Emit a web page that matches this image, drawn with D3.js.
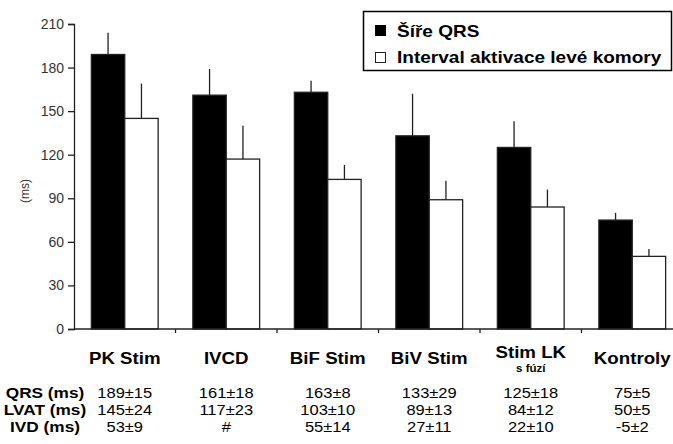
<!DOCTYPE html>
<html>
<head>
<meta charset="utf-8">
<script src="https://cdn.jsdelivr.net/npm/d3@7"></script>
<style>
  body { margin: 0; background: #fff; }
  svg { display: block; font-family: "Liberation Sans", Arial, sans-serif; }
</style>
</head>
<body>
<div id="chart"></div>
<script>
const groups = ['PK Stim', 'IVCD', 'BiF Stim', 'BiV Stim', 'Stim LK', 'Kontroly'];
const subLabels = ['', '', '', '', 's fúzí', ''];
const qrs = [189, 161, 163, 133, 125, 75];
const qrsErr = [15, 18, 8, 29, 18, 5];
const lvat = [145, 117, 103, 89, 84, 50];
const lvatErr = [24, 23, 10, 13, 12, 5];
const yTicks = [0, 30, 60, 90, 120, 150, 180, 210];
const rowLabels = ['QRS (ms)', 'LVAT (ms)', 'IVD (ms)'];
const ivd = ['53±9', '#', '55±14', '27±11', '22±10', '-5±2'];

const width = 673, height = 444;
const margin = {top: 24, right: -10, bottom: 115, left: 74};

const svg = d3.select('#chart').append('svg')
  .attr('width', width)
  .attr('height', height);

const x = d3.scaleBand()
  .domain(groups)
  .range([margin.left, width - margin.right])
  .paddingInner(0).paddingOuter(0);

const y = d3.scaleLinear()
  .domain([0, 210])
  .range([height - margin.bottom, margin.top]);

const sub = d3.scaleBand()
  .domain(['qrs', 'lvat'])
  .range([0, x.bandwidth()])
  .paddingOuter(0.52).paddingInner(0);

// stretched text helper (the source figure is a bit wider than tall)
function label(g, tx, ty, txt, size, weight, anchor, sx) {
  return g.append('text')
    .attr('transform', `translate(${tx},${ty}) scale(${sx || 1.1},1)`)
    .attr('text-anchor', anchor || 'middle')
    .attr('font-size', size)
    .attr('font-weight', weight || 'normal')
    .attr('fill', '#000')
    .text(txt);
}

const data = groups.map((g, i) => ({
  g,
  bars: [
    {k: 'qrs', v: qrs[i], e: qrsErr[i]},
    {k: 'lvat', v: lvat[i], e: lvatErr[i]}
  ]
}));

// error bars (drawn first so bar edges sit on top)
const grp = svg.append('g').selectAll('g')
  .data(data)
  .join('g')
  .attr('transform', d => `translate(${x(d.g)},0)`);

grp.selectAll('line.err')
  .data(d => d.bars)
  .join('line')
  .attr('class', 'err')
  .attr('x1', d => sub(d.k) + sub.bandwidth() / 2)
  .attr('x2', d => sub(d.k) + sub.bandwidth() / 2)
  .attr('y1', d => y(d.v))
  .attr('y2', d => y(d.v + d.e))
  .attr('stroke', '#222')
  .attr('stroke-width', 1.3);

grp.selectAll('rect')
  .data(d => d.bars)
  .join('rect')
  .attr('x', d => sub(d.k))
  .attr('width', sub.bandwidth())
  .attr('y', d => y(d.v))
  .attr('height', d => y(0) - y(d.v))
  .attr('fill', d => d.k == 'qrs' ? '#000' : '#fff')
  .attr('stroke', '#222')
  .attr('stroke-width', 1.3);

// y axis
const yAxis = svg.append('g')
  .attr('transform', `translate(${margin.left},0)`)
  .call(d3.axisLeft(y).tickValues(yTicks).tickSize(6).tickPadding(4));
yAxis.selectAll('path, line').attr('stroke', '#222').attr('stroke-width', 1.3);
yAxis.selectAll('text')
  .attr('font-size', 14)
  .attr('fill', '#333')
  .attr('font-family', '"Liberation Sans", Arial, sans-serif');

// x axis with ticks at category boundaries
const xAxis = svg.append('g')
  .attr('transform', `translate(0,${y(0)})`);
xAxis.append('line')
  .attr('x1', margin.left).attr('x2', width)
  .attr('stroke', '#222').attr('stroke-width', 1.3);
xAxis.selectAll('line.tick')
  .data(groups.slice(1))
  .join('line')
  .attr('class', 'tick')
  .attr('x1', d => x(d)).attr('x2', d => x(d))
  .attr('y1', 0).attr('y2', 4)
  .attr('stroke', '#222').attr('stroke-width', 1.3);

// y label
svg.append('text')
  .attr('transform', `translate(29,${y(95)}) rotate(-90)`)
  .attr('text-anchor', 'middle')
  .attr('font-size', 12)
  .attr('fill', '#333')
  .text('(ms)');

// category labels
const lab = svg.append('g');
groups.forEach((g, i) => {
  const cx = x(g) + x.bandwidth() / 2;
  if (subLabels[i]) {
    label(lab, cx, 358, g, 17, 'bold');
    label(lab, cx, 372, subLabels[i], 10.5, 'bold');
  } else {
    label(lab, cx, 364, g, 17, 'bold');
  }
});

// table under the chart
const tbl = svg.append('g');
const rows = [
  qrs.map((v, i) => `${v}±${qrsErr[i]}`),
  lvat.map((v, i) => `${v}±${lvatErr[i]}`),
  ivd
];
const rowY = [398, 415, 432];
rowLabels.forEach((r, j) => {
  label(tbl, 45, rowY[j], r, 15, 'bold', 'middle', 1.15);
  rows[j].forEach((t, i) => {
    label(tbl, x(groups[i]) + x.bandwidth() / 2, rowY[j], t, 15, 'normal', 'middle', 1.1);
  });
});

// legend
const leg = svg.append('g');
leg.append('rect')
  .attr('x', 363.5).attr('y', 11.5)
  .attr('width', 308).attr('height', 59)
  .attr('fill', '#fff')
  .attr('stroke', '#000').attr('stroke-width', 1.5);
leg.append('rect')
  .attr('x', 375).attr('y', 25)
  .attr('width', 11).attr('height', 11)
  .attr('fill', '#000');
leg.append('rect')
  .attr('x', 375.5).attr('y', 52.5)
  .attr('width', 10).attr('height', 10)
  .attr('fill', '#fff').attr('stroke', '#222').attr('stroke-width', 1);
label(leg, 397, 37, 'Šíře QRS', 17, 'bold', 'start', 1.12);
label(leg, 397, 63, 'Interval aktivace levé komory', 17, 'bold', 'start', 1.12);
</script>
</body>
</html>
